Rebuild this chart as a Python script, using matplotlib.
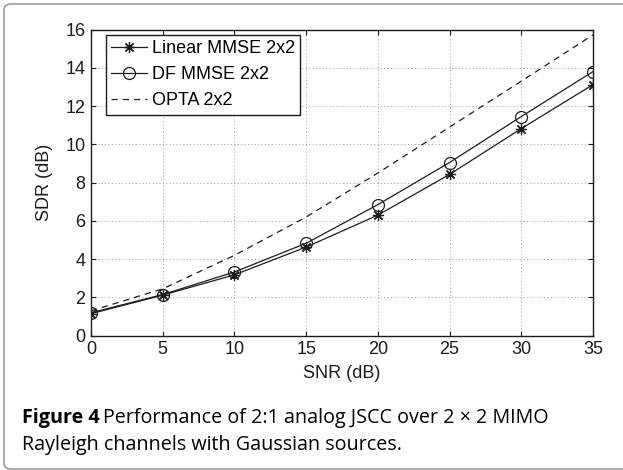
"""Figure 4 — 2:1 analog JSCC over 2x2 MIMO Rayleigh channels."""

import matplotlib

matplotlib.use("Agg")
import matplotlib.pyplot as plt
from matplotlib.patches import FancyBboxPatch

W, H = 623, 470
INK = "#1c1c1c"

snr = [0, 5, 10, 15, 20, 25, 30, 35]
sdr_linear = [1.15, 2.12, 3.18, 4.63, 6.3, 8.43, 10.82, 13.12]
sdr_df = [1.2, 2.15, 3.33, 4.83, 6.85, 9.05, 11.45, 13.8]
sdr_opta = [1.3, 2.45, 4.2, 6.2, 8.5, 10.9, 13.3, 15.72]

labels = ["Linear MMSE 2x2", "DF MMSE 2x2", "OPTA 2x2"]
xticks = [0, 5, 10, 15, 20, 25, 30, 35]
yticks = [0, 2, 4, 6, 8, 10, 12, 14, 16]

plt.rcParams["font.family"] = ["Liberation Sans", "DejaVu Sans"]

fig = plt.figure(figsize=(W / 100, H / 100), dpi=100)

# rounded frame around the whole figure (right/bottom run off the page)
fig.patches.append(
    FancyBboxPatch(
        (4 / W, 1 - 469 / H), 660 / W, 465 / H,
        boxstyle="round,pad=0,rounding_size=0.012",
        transform=fig.transFigure, fc="none", ec="#8a8a8a", lw=1.0,
    )
)

ax = fig.add_axes([91 / W, 1 - 335.7 / H, 502 / W, 306.2 / H])
ax.plot(snr, sdr_linear, color=INK, lw=0.9, marker=(8, 2, 0), ms=8,
        mew=0.9, label=labels[0])
ax.plot(snr, sdr_df, color=INK, lw=0.9, marker="o", ms=8.6, mfc="none",
        mew=0.9, label=labels[1])
ax.plot(snr, sdr_opta, color=INK, lw=0.9, ls=(0, (5, 4)), label=labels[2])

ax.set_xlim(0, 35)
ax.set_ylim(0, 16)
ax.set_xticks(xticks)
ax.set_yticks(yticks)
ax.tick_params(direction="in", length=3.6, width=0.8, labelsize=13,
               top=True, right=True, colors=INK, pad=4)
for s in ax.spines.values():
    s.set_linewidth(1.0)
    s.set_color(INK)
ax.grid(True, color="#9a9a9a", lw=0.7, ls=(0, (1, 2.5)))

ax.set_xlabel("SNR (dB)", fontsize=13, color=INK, labelpad=5)
ax.set_ylabel("SDR (dB)", fontsize=13, color=INK, labelpad=9)

leg = ax.legend(loc="upper left", bbox_to_anchor=(14.7 / 502, 1 - 5.5 / 306.2),
                borderaxespad=0, fontsize=13, handlelength=2.0,
                handletextpad=0.25, labelspacing=0.5, borderpad=0.3,
                fancybox=False, framealpha=1)
leg.get_frame().set_edgecolor(INK)
leg.get_frame().set_linewidth(1.0)

# caption: bold figure number followed by regular text
cap_font = "Open Sans"
y1 = 1 - 423.5 / H
y2 = 1 - 450 / H
t = fig.text(21.7 / W, y1, "Figure 4", fontsize=14.2, fontweight="bold",
             family=cap_font, va="baseline")
r = fig.canvas.get_renderer()
bb = t.get_window_extent(r)
fig.text(bb.x1 / W + 4 / W, y1, "Performance of 2:1 analog JSCC over 2 \u00d7 2 MIMO",
         fontsize=14.2, family=cap_font, va="baseline")
fig.text(21.7 / W, y2, "Rayleigh channels with Gaussian sources.",
         fontsize=14.2, family=cap_font, va="baseline")

fig.savefig("out.png", dpi=100, facecolor="white")
